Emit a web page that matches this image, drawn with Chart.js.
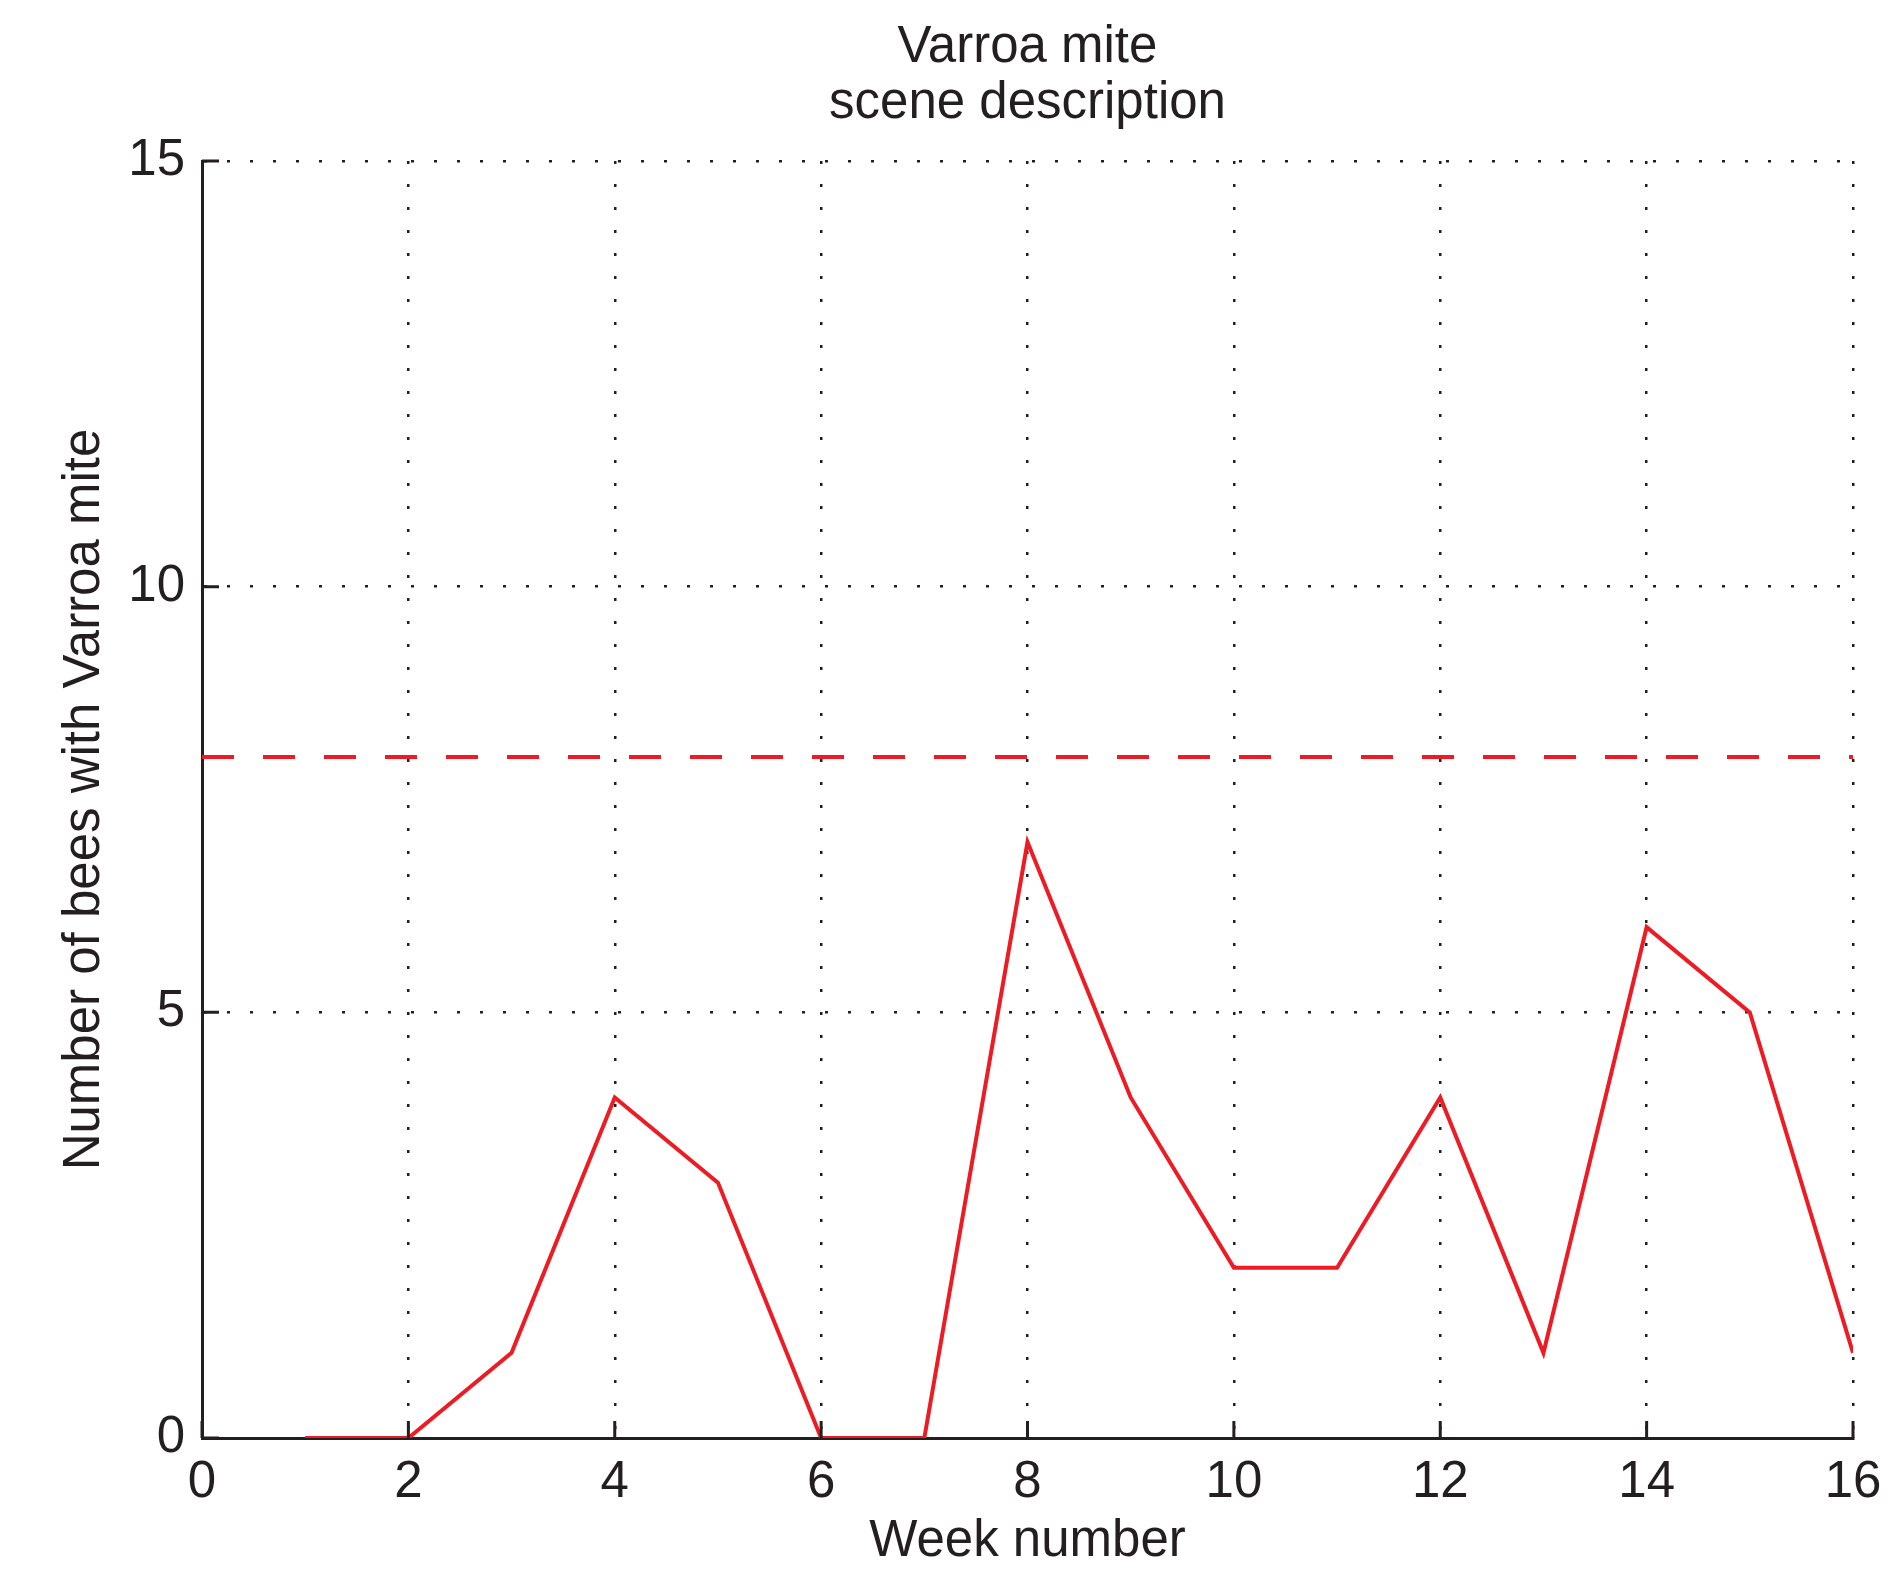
<!DOCTYPE html>
<html>
<head>
<meta charset="utf-8">
<script src="https://cdn.jsdelivr.net/npm/chart.js@4.4.1/dist/chart.umd.min.js"></script>
<style>
  html, body { margin: 0; padding: 0; background: #ffffff; }
  #wrap { width: 1903px; height: 1591px; }
  canvas { display: block; }
</style>
</head>
<body>
<div id="wrap"><canvas id="c" width="1903" height="1591"></canvas></div>
<script>
// ---- data ----
const weeks = [1, 2, 3, 4, 5, 6, 7, 8, 9, 10, 11, 12, 13, 14, 15, 16];
const beesWithMite = [0, 0, 1, 4, 3, 0, 0, 7, 4, 2, 2, 4, 1, 6, 5, 1];
const thresholdX = [0, 16];
const thresholdY = [8, 8];
const titleLines = ['Varroa mite', 'scene description'];
const xAxisTitle = 'Week number';
const yAxisTitle = 'Number of bees with Varroa mite';
const xTicks = [0, 2, 4, 6, 8, 10, 12, 14, 16];
const yTicks = [0, 5, 10, 15];

const INK = '#231f20';
const RED = '#ed1c24';
const FONT = "'Liberation Sans', Arial, Helvetica, sans-serif";

const seriesPoints = weeks.map((w, i) => ({ x: w, y: beesWithMite[i] }));
const thresholdPoints = thresholdX.map((x, i) => ({ x: x, y: thresholdY[i] }));

// inward tick marks (MATLAB style), drawn through the chart's own scales
const inwardTicks = {
  id: 'inwardTicks',
  afterDatasetsDraw(chart) {
    const { ctx, chartArea, scales } = chart;
    const len = 17;
    ctx.save();
    ctx.strokeStyle = INK;
    ctx.lineWidth = 3;
    ctx.beginPath();
    xTicks.forEach(v => {
      const px = scales.x.getPixelForValue(v);
      ctx.moveTo(px, chartArea.bottom);
      ctx.lineTo(px, chartArea.bottom - len);
    });
    yTicks.forEach(v => {
      const py = scales.y.getPixelForValue(v);
      ctx.moveTo(chartArea.left, py);
      ctx.lineTo(chartArea.left + len, py);
    });
    ctx.stroke();
    ctx.restore();
  }
};

Chart.defaults.font.family = FONT;
Chart.defaults.color = INK;

new Chart(document.getElementById('c'), {
  type: 'line',
  data: {
    datasets: [
      {
        data: seriesPoints,
        borderColor: RED,
        borderWidth: 4,
        pointRadius: 0,
        tension: 0,
        fill: false
      },
      {
        data: thresholdPoints,
        borderColor: RED,
        borderWidth: 4,
        borderDash: [32, 29],
        pointRadius: 0,
        tension: 0,
        fill: false
      }
    ]
  },
  options: {
    responsive: false,
    devicePixelRatio: 1,
    animation: false,
    events: [],
    layout: { padding: { left: 0, right: 50, top: 0, bottom: 0 } },
    plugins: {
      legend: { display: false },
      tooltip: { enabled: false },
      title: {
        display: true,
        fullSize: false,
        text: titleLines,
        color: INK,
        font: { family: FONT, size: 51, weight: 'normal', lineHeight: 56 / 51 },
        padding: { top: 20, bottom: 29 }
      }
    },
    scales: {
      x: {
        type: 'linear',
        min: 0,
        max: 16,
        afterBuildTicks(scale) { scale.ticks = xTicks.map(v => ({ value: v })); },
        afterFit(scale) { scale.height = 153; },
        ticks: {
          color: INK,
          font: { family: FONT, size: 51, lineHeight: 1 },
          padding: 19,
          maxRotation: 0,
          autoSkip: false
        },
        grid: {
          color: INK,
          lineWidth: 2.5,
          drawTicks: false
        },
        border: { display: true, color: INK, width: 3, dash: [3, 20], dashOffset: 0 },
        title: {
          display: true,
          text: xAxisTitle,
          color: INK,
          font: { family: FONT, size: 51, lineHeight: 1 },
          padding: { top: 0, bottom: 23.5 }
        }
      },
      y: {
        type: 'linear',
        min: 0,
        max: 15,
        afterBuildTicks(scale) { scale.ticks = yTicks.map(v => ({ value: v })); },
        afterFit(scale) { scale.width = 202; },
        ticks: {
          color: INK,
          font: { family: FONT, size: 51, lineHeight: 1 },
          padding: 17,
          autoSkip: false
        },
        grid: {
          color: INK,
          lineWidth: 2.5,
          drawTicks: false
        },
        border: { display: true, color: INK, width: 3, dash: [3, 20], dashOffset: 0 },
        title: {
          display: true,
          text: yAxisTitle,
          color: INK,
          font: { family: FONT, size: 51, lineHeight: 1 },
          padding: { top: 59, bottom: 0 }
        }
      }
    }
  },
  plugins: [inwardTicks]
});
</script>
</body>
</html>
